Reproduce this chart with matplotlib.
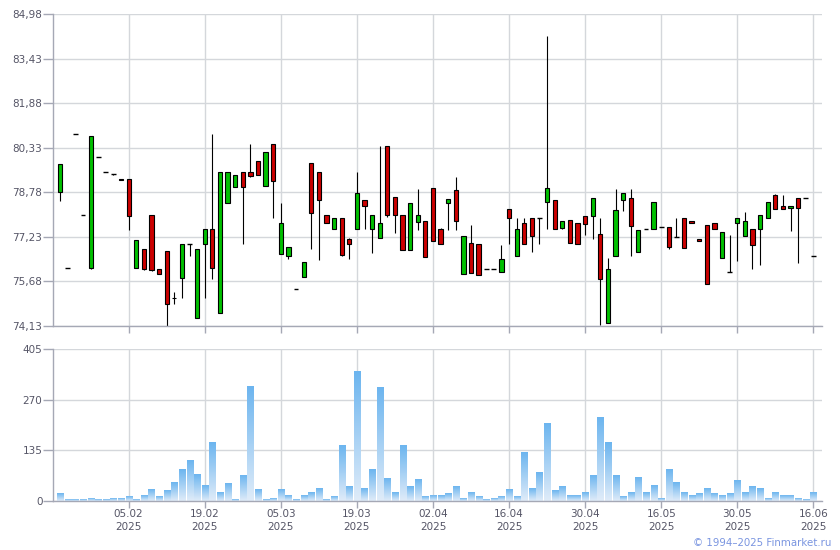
import numpy as np
import matplotlib
matplotlib.use("Agg")
import matplotlib.pyplot as plt
from matplotlib.colors import LinearSegmentedColormap

# ---------------- data ----------------
opens = [78.81, 76.16, 80.82, 78.00, 76.16, 80.02, 79.50, 79.43, 79.24, 79.25,
         76.16, 76.82, 78.00, 76.12, 76.75, 75.12, 75.81, 76.99, 74.42, 76.99,
         77.51, 74.59, 78.42, 78.97, 79.50, 79.50, 79.88, 79.01, 80.47, 76.65,
         76.58, 75.43, 75.84, 79.81, 79.50, 78.00, 77.51, 77.89, 77.17, 77.51,
         78.52, 77.51, 77.20, 80.40, 78.63, 78.00, 76.79, 77.76, 77.79, 78.94,
         77.51, 78.42, 78.87, 75.95, 77.03, 76.99, 76.12, 76.12, 76.02, 78.21,
         76.58, 77.72, 77.89, 77.89, 78.45, 78.52, 77.55, 77.83, 77.72, 77.96,
         77.96, 77.34, 74.24, 76.58, 78.52, 78.59, 76.72, 77.51, 77.51, 77.58,
         77.58, 77.24, 77.89, 77.79, 77.17, 77.65, 77.72, 76.51, 76.02, 77.72,
         77.27, 77.51, 77.51, 77.89, 78.70, 78.31, 78.24, 78.59, 78.59, 76.58]
highs = [79.76, 76.16, 80.82, 78.00, 80.75, 80.02, 79.50, 79.43, 79.24, 79.25,
         77.13, 76.82, 78.00, 76.12, 76.75, 75.30, 76.99, 76.99, 76.82, 77.51,
         80.82, 79.50, 79.50, 79.39, 79.50, 80.47, 79.88, 80.19, 80.47, 78.42,
         76.89, 75.43, 76.37, 79.81, 79.50, 78.00, 77.89, 77.89, 77.20, 79.50,
         78.52, 78.00, 80.40, 80.40, 78.63, 78.00, 78.42, 78.90, 77.79, 78.94,
         77.55, 78.56, 79.32, 77.27, 77.65, 76.99, 76.12, 76.12, 76.96, 78.21,
         77.89, 77.89, 77.89, 77.89, 84.23, 78.52, 77.79, 77.83, 77.72, 77.96,
         78.59, 77.89, 76.51, 78.90, 78.77, 78.90, 77.48, 77.51, 78.45, 77.58,
         77.58, 77.89, 77.89, 77.79, 77.17, 77.65, 77.72, 77.41, 77.31, 77.89,
         78.10, 77.51, 78.00, 78.45, 78.73, 78.70, 78.31, 78.59, 78.59, 76.58]
lows = [78.49, 76.16, 80.82, 78.00, 76.12, 80.02, 79.50, 79.40, 79.20, 77.48,
        76.16, 76.09, 76.05, 75.95, 74.14, 74.91, 75.11, 76.58, 74.40, 75.11,
        75.77, 74.59, 78.42, 78.97, 76.99, 79.30, 79.39, 79.01, 77.89, 76.65,
        76.47, 75.43, 75.84, 76.82, 76.44, 77.72, 77.51, 76.58, 76.47, 77.51,
        77.51, 76.68, 77.20, 77.94, 77.38, 76.79, 76.79, 77.48, 76.54, 77.10,
        76.99, 77.48, 77.48, 75.95, 75.98, 75.91, 76.12, 76.12, 76.02, 76.99,
        76.58, 76.99, 76.72, 76.99, 77.51, 77.51, 77.51, 77.03, 76.99, 77.31,
        77.17, 74.17, 74.24, 76.58, 78.14, 76.58, 76.72, 77.51, 77.51, 77.58,
        76.82, 77.24, 76.85, 77.72, 77.10, 75.60, 77.51, 76.51, 76.02, 76.40,
        77.27, 76.12, 76.26, 77.89, 78.21, 78.21, 77.45, 76.33, 78.59, 76.58]
closes = [79.76, 76.16, 80.82, 78.00, 80.75, 80.02, 79.50, 79.43, 79.20, 77.96,
          77.13, 76.12, 76.09, 75.95, 74.91, 75.10, 76.99, 76.99, 76.82, 77.51,
          76.16, 79.50, 79.50, 79.39, 78.97, 79.36, 79.39, 80.19, 79.18, 77.72,
          76.89, 75.43, 76.37, 78.07, 78.52, 77.72, 77.89, 76.61, 76.99, 78.77,
          78.31, 78.00, 77.72, 78.00, 78.00, 76.79, 78.42, 78.00, 76.54, 77.10,
          76.99, 78.56, 77.79, 77.27, 75.98, 75.91, 76.12, 76.12, 76.47, 77.89,
          77.51, 76.99, 77.27, 77.89, 78.94, 77.51, 77.79, 77.03, 76.99, 77.69,
          78.59, 75.77, 76.12, 78.17, 78.77, 77.62, 77.48, 77.51, 78.45, 77.58,
          76.89, 77.24, 76.85, 77.72, 77.10, 75.60, 77.51, 77.41, 76.02, 77.89,
          77.79, 76.96, 78.00, 78.45, 78.21, 78.21, 78.31, 78.24, 78.59, 76.58]
volumes = [18.7, 3.6, 3.6, 3.6, 8.0, 3.6, 3.6, 8.0, 6.0, 10.7,
           3.6, 16.0, 29.4, 10.7, 26.7, 50.7, 82.8, 106.8, 72.0, 42.7,
           154.9, 21.4, 45.4, 3.6, 66.8, 307.0, 29.4, 3.6, 8.0, 32.0,
           16.0, 3.6, 13.4, 24.0, 34.7, 5.3, 10.7, 149.5, 37.4, 347.0,
           34.7, 82.8, 301.7, 61.4, 24.0, 149.5, 40.0, 58.7, 10.7, 13.4,
           13.4, 18.7, 37.4, 8.0, 21.4, 10.7, 2.7, 8.0, 10.7, 32.0,
           10.7, 130.8, 34.7, 74.8, 205.6, 26.7, 40.0, 16.0, 13.4, 21.4,
           69.4, 221.6, 154.9, 66.8, 10.7, 24.0, 64.0, 21.4, 42.7, 8.0,
           82.8, 50.7, 21.4, 13.4, 18.7, 34.7, 18.7, 13.4, 18.7, 53.4,
           24.0, 37.4, 34.7, 8.0, 21.4, 16.0, 13.4, 8.0, 2.7, 24.0]
date_labels = ['05.02', '19.02', '05.03', '19.03', '02.04',
               '16.04', '30.04', '16.05', '30.05', '16.06']
year_label = '2025'
price_ticks = [74.13, 75.68, 77.23, 78.78, 80.33, 81.88, 83.43, 84.98]
volume_ticks = [0, 135, 270, 405]

# ---------------- style ----------------
GRID = '#d4d7db'
AXIS = '#a5a8b5'
TXT = '#555566'
GREEN = '#00c000'
RED = '#cc0000'
FS = 7.5

n = len(closes)
x = np.arange(n)
tick_pos = [9 + 10 * i for i in range(len(date_labels))]
xlim = (-0.91, n + 0.1)

fig = plt.figure(figsize=(8.4, 5.5), dpi=100)
axp = fig.add_axes([53.3 / 840, 1 - 326 / 550, (821.7 - 53.3) / 840, (326 - 14.3) / 550])
axv = fig.add_axes([53.3 / 840, 1 - 501 / 550, (821.7 - 53.3) / 840, (501 - 349.3) / 550])

for ax in (axp, axv):
    ax.set_facecolor('white')
    for s in ('top', 'right'):
        ax.spines[s].set_visible(False)
    for s in ('left', 'bottom'):
        ax.spines[s].set_color(AXIS)
        ax.spines[s].set_linewidth(1.0)
    ax.set_xticks(tick_pos)
    ax.grid(True, color=GRID, linewidth=1.0)
    ax.set_axisbelow(True)
    ax.tick_params(axis='y', length=7, width=1, color=AXIS, labelcolor=TXT,
                   labelsize=FS, pad=0.8)
    ax.tick_params(axis='x', length=5, width=1, color=AXIS, labelcolor=TXT,
                   labelsize=FS, pad=1)

# ---------------- candles ----------------
for i in range(n):
    o, h, l, c = opens[i], highs[i], lows[i], closes[i]
    if h > max(o, c) or l < min(o, c):
        axp.vlines(x[i], l, h, color='black', linewidth=0.8, zorder=2)
    if abs(c - o) < 1e-9:
        axp.hlines(c, x[i] - 0.32, x[i] + 0.32, color='black', linewidth=1.0, zorder=3)
    else:
        col = GREEN if c > o else RED
        axp.bar(x[i], abs(c - o), bottom=min(o, c), width=0.56, color=col,
                edgecolor='black', linewidth=0.8, zorder=3)

axp.set_yticks(price_ticks)
axp.set_yticklabels([f"{v:.2f}".replace('.', ',') for v in price_ticks])
axp.set_xticklabels([])
axp.set_ylim(price_ticks[0], price_ticks[-1])
axp.set_xlim(*xlim)

# ---------------- volume ----------------
cmap = LinearSegmentedColormap.from_list('vol', ['#e0ecf9', '#6cb5ef'])
grad = np.linspace(0, 1, 128).reshape(-1, 1)
for i in range(n):
    axv.imshow(grad, cmap=cmap, extent=(x[i] - 0.4, x[i] + 0.4, 0, volumes[i]),
               origin='lower', aspect='auto', interpolation='bilinear', zorder=2)

axv.set_yticks(volume_ticks)
axv.set_yticklabels([str(v) for v in volume_ticks])
axv.set_xticklabels([f"{d}\n{year_label}" for d in date_labels], linespacing=1.3)
axv.set_ylim(volume_ticks[0], volume_ticks[-1])
axv.set_xlim(*xlim)

fig.text(831 / 840, 1 - 543 / 550, '\u00a9 1994\u20132025 Finmarket.ru', color='#7a95e0',
         fontsize=7.4, ha='right', va='center')

fig.savefig('out.png', dpi=100, facecolor='white')
